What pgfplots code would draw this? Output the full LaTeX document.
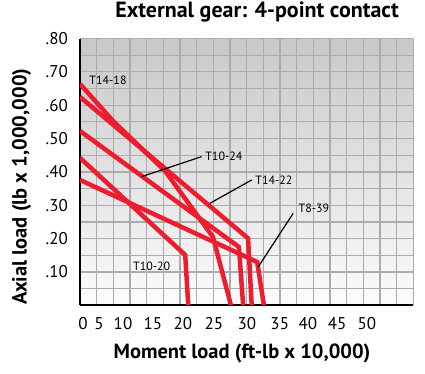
\documentclass[border=0pt]{standalone}
\usepackage{pgfplots}
\pgfplotsset{compat=1.18}
\usepackage{fontspec}
\setmainfont{PT Sans}
\definecolor{chartred}{RGB}{237,28,46}
\definecolor{gridgray}{RGB}{172,172,172}
\begin{document}
\begin{tikzpicture}
\useasboundingbox (0,0) rectangle (425pt,373pt);
\begin{axis}[
  at={(80pt,67.7pt)}, anchor=south west,
  scale only axis, width=333.3pt, height=266.7pt,
  xmin=2.95, xmax=57.594, ymin=0, ymax=0.8,
  axis x line*=bottom, axis y line*=left,
  axis line style={line width=2.2pt, black},
  axis background/.style={shade, top color={rgb,255:red,200;green,200;blue,200}, bottom color={rgb,255:red,252;green,252;blue,252}},
  xtick={2.95,5.682,8.414,11.147,13.879,16.611,19.343,22.075,24.808,27.540,30.272,33.004,35.736,38.469,41.201,43.933,46.665,49.397,52.130,54.862,57.594},
  xticklabels={},
  extra x ticks={3.44,6.07,10,14.9,19.8,24.9,30.3,35.7,40.3,45.1,50.0},
  extra x tick labels={0,5,10,15,20,25,30,35,40,45,50},
  extra x tick style={grid=none},
  ytick={0.1,0.2,0.3,0.4,0.5,0.6,0.7,0.8},
  yticklabels={.10,.20,.30,.40,.50,.60,.70,.80},
  minor ytick={0.05,0.15,0.25,0.35,0.45,0.55,0.65,0.75},
  grid=both,
  major grid style={line width=1.1pt, gridgray},
  minor grid style={line width=1.1pt, gridgray},
  major tick length=0pt, minor tick length=0pt,
  tick style={draw=none},
  ticklabel style={font=\fontsize{17}{20}\selectfont},
  xticklabel style={anchor=base, yshift=-24pt},
  yticklabel style={anchor=east, inner sep=0pt, xshift=-12pt},
  xlabel={Moment load (ft-lb x 10,000)},
  ylabel={Axial load (lb x 1,000,000)},
  xlabel style={font=\bfseries\fontsize{20.5}{24}\selectfont, at={(axis description cs:0.486,-0.179)}, anchor=center},
  ylabel style={font=\bfseries\fontsize{20.5}{24}\selectfont, at={(axis description cs:-0.175,0.445)}, anchor=center, rotate=0},
  title={External gear: 4-point contact},
  title style={font=\bfseries\fontsize{22}{26}\selectfont, at={(axis description cs:0.531,1.077)}, anchor=center},
]
\addplot[chartred, line width=4.5pt, line join=miter, no markers] coordinates {(2.95,0.664) (8.36,0.553) (16.89,0.403) (24.75,0.205) (27.7,0)};
\addplot[chartred, line width=4.5pt, line join=miter, no markers] coordinates {(2.95,0.625) (30.5,0.201) (31.1,0)};
\addplot[chartred, line width=4.5pt, line join=miter, no markers] coordinates {(2.95,0.523) (29.0,0.175) (29.7,0)};
\addplot[chartred, line width=4.5pt, line join=miter, no markers] coordinates {(2.95,0.442) (20.2,0.151) (20.7,0)};
\addplot[chartred, line width=4.5pt, line join=miter, no markers] coordinates {(2.95,0.376) (32.0,0.130) (33.1,0)};
\draw[line width=1.2pt, black] (axis cs:13.07,0.386) -- (axis cs:22.9,0.446);
\draw[line width=1.2pt, black] (axis cs:24.26,0.306) -- (axis cs:31.1,0.376);
\draw[line width=1.2pt, black] (axis cs:32.2,0.116) -- (axis cs:37.9,0.276);
\node[font=\fontsize{12}{14}\selectfont, anchor=west, inner sep=1pt] at (axis cs:23.3,0.446) {T10-24};
\node[font=\fontsize{12}{14}\selectfont, anchor=west, inner sep=1pt] at (axis cs:31.5,0.376) {T14-22};
\node[font=\fontsize{12}{14}\selectfont, anchor=west, inner sep=1pt] at (axis cs:38.6,0.291) {T8-39};
\node[font=\fontsize{12}{14}\selectfont, anchor=center] at (axis cs:14.7,0.116) {T10-20};
\node[font=\fontsize{12}{14}\selectfont, anchor=center] at (axis cs:7.54,0.676) {T14-18};
\end{axis}
\end{tikzpicture}
\end{document}
